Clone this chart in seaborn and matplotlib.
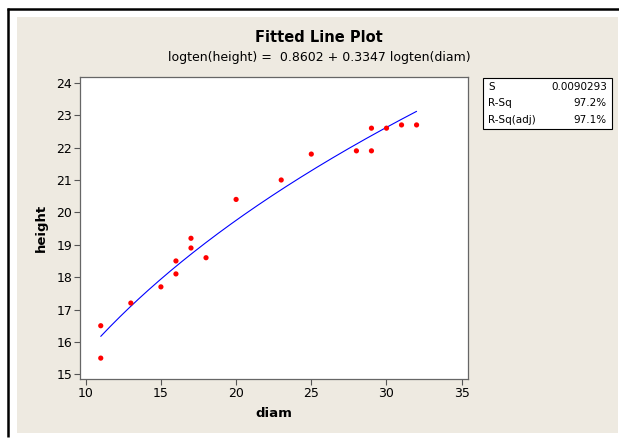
import numpy as np
import pandas as pd
import matplotlib
matplotlib.use("Agg")
import matplotlib.pyplot as plt
from matplotlib.patches import Rectangle
from matplotlib.lines import Line2D
import seaborn as sns

# Observations
diam = [11, 11, 13, 15, 16, 16, 17, 17, 18, 20, 23, 25, 28, 29, 29, 30, 31, 32]
height = [16.5, 15.5, 17.2, 17.7, 18.5, 18.1, 19.2, 18.9, 18.6, 20.4, 21.0, 21.8,
          21.9, 22.6, 21.9, 22.6, 22.7, 22.7]

# Fitted model: log10(height) = b0 + b1 * log10(diam)
b0, b1 = 0.8602, 0.3347
stat_names = ["S", "R-Sq", "R-Sq(adj)"]
stat_values = ["0.0090293", "97.2%", "97.1%"]
xticks = [10, 15, 20, 25, 30, 35]
yticks = [15, 16, 17, 18, 19, 20, 21, 22, 23, 24]

sns.set_theme(style="white")
plt.rcParams["font.family"] = ["DejaVu Sans"]
plt.rcParams["text.color"] = "black"
plt.rcParams["axes.labelcolor"] = "black"

W, H = 619, 438
fig = plt.figure(figsize=(W / 100, H / 100), dpi=100)
fig.patch.set_facecolor("white")

def fx(px):
    return px / W

def fy(py):
    return 1 - py / H

# beige panel and black frame
fig.add_artist(Rectangle((fx(17), fy(433)), fx(601), (433 - 17) / H,
                         transform=fig.transFigure, facecolor="#EEEAE1",
                         edgecolor="none", zorder=0))
fig.add_artist(Line2D([fx(8), fx(8)], [fy(8), fy(437)], transform=fig.transFigure,
                      color="black", lw=1.8, solid_capstyle="butt"))
fig.add_artist(Line2D([fx(7), fx(619)], [fy(9), fy(9)], transform=fig.transFigure,
                      color="black", lw=1.8, solid_capstyle="butt"))

ax = fig.add_axes([fx(80), fy(379), fx(388), (379 - 77) / H])
ax.set_facecolor("white")

df = pd.DataFrame({"diam": diam, "height": height})
fit_x = np.linspace(min(diam), max(diam), 200)
fit_y = 10 ** (b0 + b1 * np.log10(fit_x))
fit = pd.DataFrame({"diam": fit_x, "height": fit_y})

sns.lineplot(data=fit, x="diam", y="height", ax=ax, color="#0000FF", lw=0.8)
sns.scatterplot(data=df, x="diam", y="height", ax=ax, color="#FF0000",
                s=14, edgecolor="none", zorder=3)

ax.set_xlim(9.62, 35.42)
ax.set_ylim(14.855, 24.18)
ax.set_xticks(xticks)
ax.set_yticks(yticks)
ax.tick_params(direction="out", length=4, width=0.8, color="#555555",
               labelsize=9, labelcolor="black", pad=1.5,
               bottom=True, left=True)
for sp in ax.spines.values():
    sp.set_color("#666666")
    sp.set_linewidth(0.9)
ax.set_xlabel("diam", fontsize=9.5, fontweight="bold", labelpad=5)
ax.set_ylabel("height", fontsize=9.5, fontweight="bold", labelpad=6)

fig.text(fx(319), fy(37), "Fitted Line Plot", ha="center", va="center",
         fontsize=10.5, fontweight="bold")
fig.text(fx(319), fy(57), "logten(height) =  0.8602 + 0.3347 logten(diam)",
         ha="center", va="center", fontsize=9)

# statistics box
fig.add_artist(Rectangle((fx(483), fy(129)), fx(129), 51 / H,
                         transform=fig.transFigure, facecolor="white",
                         edgecolor="black", lw=0.8, zorder=2))
for i, (n, v) in enumerate(zip(stat_names, stat_values)):
    y = fy(87 + 16.5 * i)
    fig.text(fx(488), y, n, ha="left", va="center", fontsize=7.5, zorder=3)
    fig.text(fx(607), y, v, ha="right", va="center", fontsize=7.5, zorder=3)

fig.savefig("out.png", dpi=100, facecolor="white")
